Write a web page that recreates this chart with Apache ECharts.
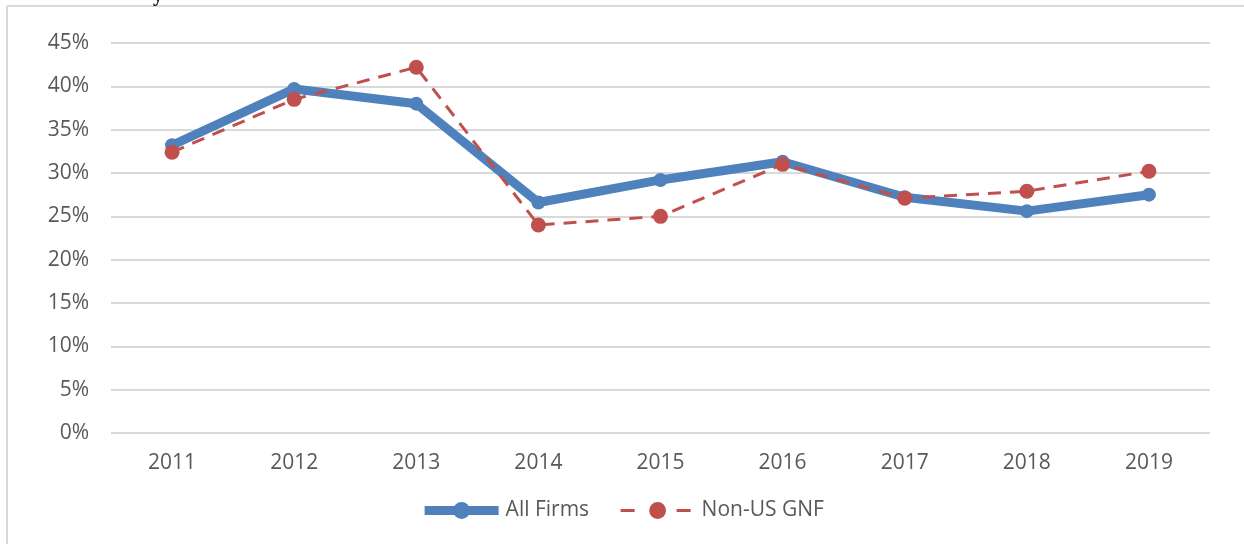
<!DOCTYPE html>
<html>
<head>
<meta charset="utf-8">
<script src="https://cdn.jsdelivr.net/npm/echarts@6/dist/echarts.min.js"></script>
<style>
html,body{margin:0;padding:0;background:#fff;}
#chart{width:1244px;height:544px;}
</style>
</head>
<body>
<div id="chart"></div>
<script>
const categories = ['2011','2012','2013','2014','2015','2016','2017','2018','2019'];
const allFirms = [33.2, 39.7, 38.0, 26.6, 29.2, 31.3, 27.2, 25.6, 27.5];
const nonUsGnf = [32.4, 38.5, 42.2, 24.0, 25.0, 31.0, 27.1, 27.9, 30.2];
const seriesNames = ['All Firms', 'Non-US GNF'];

const chart = echarts.init(document.getElementById('chart'), null, {renderer: 'canvas'});
const font = '"Open Sans", "Liberation Sans", sans-serif';
chart.setOption({
  animation: false,
  backgroundColor: '#fff',
  graphic: [
    {type: 'line', shape: {x1: 7, y1: 6, x2: 1244, y2: 6}, style: {stroke: '#d9d9d9', lineWidth: 2}},
    {type: 'line', shape: {x1: 7, y1: 6, x2: 7, y2: 544}, style: {stroke: '#d9d9d9', lineWidth: 2}},
    {type: 'text', left: 153, top: -14, style: {text: 'y', font: 'bold 20px "Liberation Serif", serif', fill: '#000'}}
  ],
  grid: {left: 111, right: 34, top: 43, bottom: 111, containLabel: false},
  xAxis: {
    type: 'category',
    data: categories,
    boundaryGap: true,
    axisLine: {show: false},
    axisTick: {show: false},
    axisLabel: {color: '#595959', fontSize: 21, fontFamily: font, margin: 20}
  },
  yAxis: {
    type: 'value',
    min: 0, max: 45, interval: 5,
    axisLine: {show: false},
    axisTick: {show: false},
    splitLine: {lineStyle: {color: '#d9d9d9', width: 2}},
    axisLabel: {color: '#595959', fontSize: 21, fontFamily: font, margin: 22, formatter: '{value}%'}
  },
  legend: {
    bottom: 18,
    left: 'center',
    itemGap: 30,
    itemWidth: 74,
    itemHeight: 21,
    textStyle: {color: '#595959', fontSize: 21, fontFamily: font, padding: [0,0,0,2]},
    data: [
      {name: seriesNames[0], lineStyle: {width: 9}},
      {name: seriesNames[1], lineStyle: {width: 3, type: [14, 42]}}
    ]
  },
  series: [
    {
      name: seriesNames[0], type: 'line', data: allFirms,
      symbol: 'circle', symbolSize: 14,
      itemStyle: {color: '#4F81BD'},
      lineStyle: {color: '#4F81BD', width: 9}
    },
    {
      name: seriesNames[1], type: 'line', data: nonUsGnf,
      symbol: 'circle', symbolSize: 15,
      itemStyle: {color: '#C0504D'},
      lineStyle: {color: '#C0504D', width: 3, type: [13, 9]}
    }
  ]
});
</script>
</body>
</html>
